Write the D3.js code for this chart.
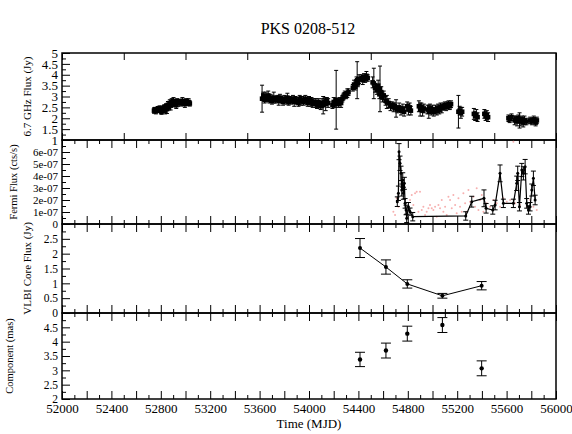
<!DOCTYPE html>
<html><head><meta charset="utf-8">
<script src="https://cdn.jsdelivr.net/npm/d3@7"></script>
<style>body{margin:0;background:#fff}svg{display:block}</style>
</head><body><svg id="c" width="572" height="434"></svg>
<script>
// ---------- DATA ----------
const title = "PKS 0208-512";
const xLabel = "Time (MJD)";
const panelLabels = ["6.7 GHz Flux (Jy)", "Fermi Flux (cts/s)", "VLBI Core Flux (Jy)", "Component (mas)"];
const xTickLabels = [52000, 52400, 52800, 53200, 53600, 54000, 54400, 54800, 55200, 55600, 56000];
const radioTickLabels = [1, 1.5, 2, 2.5, 3, 3.5, 4, 4.5, 5];
const fermiTickLabels = [0, 1e-7, 2e-7, 3e-7, 4e-7, 5e-7, 6e-7];
const vlbiTickLabels = [0, 0.5, 1, 1.5, 2, 2.5];
const compTickLabels = [2, 2.5, 3, 3.5, 4, 4.5];

// 6.7 GHz radio light curve
const radioMJD = [52745,52752,52760,52768,52775,52783,52790,52798,52805,52812,52820,52828,52835,52843,52850,52858,52865,52873,52880,52888,52895,52903,52910,52918,52925,52933,52940,52955,52965,52975,52985,52995,53005,53015,53025,53035,
53620,53630,53640,53650,53660,53670,53680,53690,53700,53715,53730,53745,53755,53765,53775,53790,53800,53815,53825,53835,53845,53855,53870,53880,53890,53900,53915,53925,53935,53945,53955,53970,53980,53990,54000,54010,54020,54030,54040,54055,54065,54075,54085,54095,54105,54115,54125,54135,54145,54155,
54190,54200,54210,54220,54230,54240,54250,54260,54270,54280,54290,54300,54310,54320,54355,54365,54375,54385,54390,54395,54405,54425,54435,54445,54455,54465,54475,
54515,54525,54535,54550,54560,54570,54575,54585,54595,54605,54620,54630,54645,54660,54675,54685,54695,54705,54715,54730,54745,54760,54770,54795,54805,54815,54825,
54890,54900,54910,54920,54930,54960,54970,54980,54990,55000,55010,55025,55035,55045,55055,55065,55075,55090,55100,55110,55120,55130,55140,55150,
55210,55220,55230,55240,55335,55345,55355,55365,55420,55430,55440,55450,
55615,55625,55640,55665,55675,55685,55695,55705,55715,55725,55735,55745,55760,55790,55805,55820,55835,55845];
const radioFlux = [2.35,2.40,2.32,2.38,2.42,2.36,2.45,2.40,2.30,2.44,2.38,2.50,2.35,2.55,2.42,2.62,2.50,2.70,2.58,2.75,2.65,2.80,2.68,2.72,2.60,2.78,2.70,2.75,2.68,2.80,2.72,2.65,2.78,2.70,2.75,2.68,
2.90,3.05,2.85,3.00,2.90,3.05,2.85,2.95,2.80,2.95,2.85,2.90,2.80,2.95,2.85,2.75,2.90,2.80,2.95,2.75,2.85,2.80,2.90,2.75,2.85,2.80,2.70,2.90,2.80,2.85,2.75,2.90,2.80,2.70,2.85,2.75,2.80,2.65,2.75,2.70,2.60,2.75,2.65,2.55,2.70,2.60,2.75,2.65,2.80,2.70,
2.60,2.75,2.65,2.85,2.75,2.65,2.80,2.70,2.90,3.00,3.10,3.05,3.15,3.20,3.40,3.55,3.45,3.70,3.75,3.60,3.80,3.85,3.75,3.90,3.80,3.95,3.85,
3.65,3.60,3.40,3.30,3.50,3.10,3.35,3.20,2.95,3.05,2.80,2.75,2.70,2.55,2.60,2.50,2.55,2.45,2.40,2.50,2.35,2.45,2.30,2.55,2.40,2.50,2.35,
2.55,2.40,2.50,2.35,2.45,2.40,2.30,2.45,2.35,2.40,2.30,2.40,2.35,2.45,2.40,2.50,2.45,2.55,2.60,2.50,2.60,2.65,2.55,2.65,
2.30,2.35,2.25,2.30,2.20,2.10,2.15,2.05,2.20,2.10,2.15,2.05,
2.00,1.95,2.05,1.90,1.95,1.85,2.00,1.90,1.85,1.95,1.80,1.90,1.85,1.90,1.85,1.95,1.80,1.90];
const radioErr = [0.12,0.10,0.12,0.10,0.12,0.10,0.12,0.10,0.12,0.12,0.10,0.12,0.15,0.12,0.20,0.15,0.12,0.15,0.20,0.15,0.12,0.15,0.15,0.12,0.15,0.12,0.15,0.12,0.12,0.15,0.12,0.15,0.12,0.12,0.15,0.12,
0.62,0.15,0.15,0.20,0.15,0.20,0.15,0.15,0.15,0.25,0.15,0.15,0.20,0.15,0.15,0.15,0.15,0.15,0.20,0.15,0.15,0.15,0.15,0.20,0.15,0.15,0.15,0.15,0.20,0.15,0.15,0.15,0.15,0.15,0.15,0.20,0.15,0.15,0.15,0.20,0.15,0.15,0.15,0.15,0.20,0.40,0.15,0.30,0.15,0.20,
0.15,0.20,0.15,1.35,0.15,0.15,0.15,0.20,0.15,0.15,0.15,0.15,0.20,0.15,0.15,0.20,0.15,0.20,0.85,0.15,0.20,0.15,0.20,0.15,0.15,0.20,0.15,
0.25,0.70,0.20,0.20,0.25,0.20,1.05,0.25,0.20,0.20,0.20,0.30,0.20,0.20,0.15,0.20,0.15,0.40,0.15,0.20,0.20,0.20,0.20,0.20,0.25,0.20,0.20,
0.25,0.30,0.20,0.25,0.20,0.20,0.30,0.20,0.20,0.20,0.20,0.20,0.20,0.20,0.20,0.20,0.20,0.15,0.15,0.15,0.15,0.15,0.15,0.15,
0.75,0.20,0.25,0.20,0.25,0.20,0.25,0.20,0.20,0.20,0.20,0.20,
0.15,0.15,0.15,0.20,0.15,0.20,0.15,0.35,0.20,0.15,0.20,0.20,0.15,0.15,0.15,0.15,0.15,0.15];

// Fermi binned light curve (black)
const fermiMJD = [54715,54724,54729,54737,54745,54751,54759,54764,54772,54778,54786,54791,54805,54818,54840,55269,55318,55417,55434,55488,55507,55547,55574,55655,55682,55690,55704,55723,55736,55750,55763,55777,55790,55804,55817,55831];
const fermiFlux = [1.86e-7,2.56e-7,6.03e-7,5.06e-7,4.22e-7,2.83e-7,3.67e-7,2.56e-7,3.39e-7,1.72e-7,1.17e-7,0.47e-7,1.44e-7,1.03e-7,0.61e-7,0.67e-7,1.86e-7,2.14e-7,1.31e-7,1.17e-7,1.58e-7,4.22e-7,1.72e-7,1.72e-7,3.39e-7,4.22e-7,1.44e-7,4.50e-7,4.22e-7,4.78e-7,1.72e-7,1.17e-7,1.44e-7,2.83e-7,3.81e-7,2.00e-7];
const fermiErr = [0.40e-7,0.60e-7,0.67e-7,0.60e-7,0.60e-7,0.50e-7,0.60e-7,0.50e-7,0.50e-7,0.40e-7,0.40e-7,0.35e-7,0.35e-7,0.30e-7,0.35e-7,0.35e-7,0.45e-7,0.70e-7,0.40e-7,0.35e-7,0.40e-7,0.70e-7,0.35e-7,0.35e-7,0.60e-7,0.60e-7,0.35e-7,0.55e-7,0.55e-7,0.60e-7,0.40e-7,0.35e-7,0.35e-7,0.50e-7,0.60e-7,0.40e-7];

// Fermi unbinned points (pink)
const fermiDotMJD = [54683,54697,54710,54724,54818,54832,54845,54859,54872,54886,54899,54913,54926,54940,54953,54967,54980,54994,55007,55021,55034,55048,55061,55075,55088,55102,55115,55129,55142,55156,55169,55183,55196,55210,55223,55237,55250,55264,55277,55291,55304,55331,55345,55358,55372,55385,55399,55412,55439,55466,55493,55520,55547,55574,55601,55628,55655,55669,55709,55763,55790,55817,55844];
const fermiDotFlux = [1.03e-7,0.75e-7,2.14e-7,1.44e-7,2.00e-7,2.42e-7,1.58e-7,2.56e-7,2.69e-7,1.03e-7,2.69e-7,1.17e-7,1.44e-7,0.75e-7,1.03e-7,1.31e-7,1.58e-7,1.31e-7,1.17e-7,1.44e-7,0.61e-7,1.58e-7,1.31e-7,2.00e-7,1.03e-7,1.44e-7,0.75e-7,2.28e-7,2.00e-7,1.31e-7,2.42e-7,1.58e-7,0.89e-7,2.14e-7,1.44e-7,1.03e-7,2.56e-7,1.72e-7,1.03e-7,2.83e-7,1.86e-7,2.28e-7,1.44e-7,2.97e-7,1.17e-7,2.00e-7,2.42e-7,1.03e-7,1.72e-7,1.44e-7,2.00e-7,1.72e-7,1.44e-7,2.14e-7,1.86e-7,2.00e-7,6.86e-7,1.72e-7,1.58e-7,1.44e-7,2.00e-7,1.44e-7,1.17e-7];

// VLBI core flux
const vlbiMJD = [54413, 54623, 54796, 55080, 55398];
const vlbiFlux = [2.19, 1.55, 0.98, 0.58, 0.92];
const vlbiErr = [0.32, 0.24, 0.14, 0.08, 0.14];

// Component distance
const compMJD = [54413, 54623, 54796, 55080, 55398];
const compDist = [3.38, 3.69, 4.28, 4.58, 3.07];
const compErr = [0.25, 0.26, 0.26, 0.26, 0.26];

// ---------- LAYOUT ----------
const FONT = "'Liberation Serif', 'Times New Roman', Tinos, serif";
const svg = d3.select("#c");
const X0 = 62, X1 = 556;
const bounds = [53, 140, 224, 313, 399];
const x = d3.scaleLinear().domain([52000, 56000]).range([X0, X1]);
const yR = d3.scaleLinear().domain([1, 5]).range([bounds[1], bounds[0]]);
const yF = d3.scaleLinear().domain([0, 7e-7]).range([bounds[2], bounds[1]]);
const yV = d3.scaleLinear().domain([0, 3]).range([bounds[3], bounds[2]]);
const yC = d3.scaleLinear().domain([2, 5]).range([bounds[4], bounds[3]]);

svg.append("text").attr("x", 308).attr("y", 34).attr("text-anchor", "middle")
  .attr("font-size", 16).text(title);

function styleAxis(g, fs) {
  g.select(".domain").remove();
  g.attr("font-family", null);
  g.selectAll(".tick line").attr("stroke", "#000").attr("stroke-width", 1);
  g.selectAll("text").attr("font-size", fs).attr("fill", "#000");
}

function yAxes(scale, majors, minors, fmt, fs) {
  const gMin = svg.append("g").attr("transform", `translate(${X0},0)`)
    .call(d3.axisLeft(scale).tickValues(minors).tickSize(-4).tickFormat(""));
  styleAxis(gMin, fs);
  const gMaj = svg.append("g").attr("transform", `translate(${X0},0)`)
    .call(d3.axisLeft(scale).tickValues(majors).tickSize(-8).tickPadding(4).tickFormat(fmt));
  styleAxis(gMaj, fs);
}

function xAxesPanel(top, bottom, majors, minors, majLen, labels) {
  if (minors) {
    styleAxis(svg.append("g").attr("transform", `translate(0,${top})`)
      .call(d3.axisTop(x).tickValues(minors).tickSize(-4).tickFormat("")), 13);
    styleAxis(svg.append("g").attr("transform", `translate(0,${bottom})`)
      .call(d3.axisBottom(x).tickValues(minors).tickSize(-4).tickFormat("")), 13);
  }
  styleAxis(svg.append("g").attr("transform", `translate(0,${top})`)
    .call(d3.axisTop(x).tickValues(majors).tickSize(-majLen).tickFormat("")), 13);
  styleAxis(svg.append("g").attr("transform", `translate(0,${bottom})`)
    .call(d3.axisBottom(x).tickValues(majors).tickSize(-majLen).tickFormat("")), 13);
  if (labels) {
    const gl = svg.append("g").attr("transform", `translate(0,${bottom})`)
      .call(d3.axisBottom(x).tickValues(labels).tickSize(0).tickPadding(5).tickFormat(d3.format("d")));
    styleAxis(gl, 13);
    gl.selectAll(".tick line").remove();
  }
}

// tick positions
const x500 = d3.range(52000, 56001, 500);
const x200 = d3.range(52000, 56001, 200);
const x100 = d3.range(52100, 56000, 200);

xAxesPanel(bounds[0], bounds[1], x500, null, 7, null);
xAxesPanel(bounds[1], bounds[2], x200, x100, 8, null);
xAxesPanel(bounds[2], bounds[3], x200, x100, 8, null);
xAxesPanel(bounds[3], bounds[4], x200, x100, 8, xTickLabels);

yAxes(yR, radioTickLabels, radioTickLabels.map(d => d + 0.25).filter(d => d < 5), d => d3.format("")(d), 13);
yAxes(yF, fermiTickLabels, fermiTickLabels.map(d => d + 0.5e-7), d => d === 0 ? "0" : Math.round(d * 1e7) + "e-07", 11);
yAxes(yV, vlbiTickLabels, vlbiTickLabels.map(d => d + 0.25), d => d3.format("")(d), 11.5);
yAxes(yC, compTickLabels, compTickLabels.map(d => d + 0.25), d => d3.format("")(d), 11.5);

// frames
for (let i = 0; i < 4; i++) {
  svg.append("rect").attr("x", X0).attr("y", bounds[i]).attr("width", X1 - X0)
    .attr("height", bounds[i + 1] - bounds[i]).attr("fill", "none")
    .attr("stroke", "#000").attr("stroke-width", 1.5);
}

// axis titles
const labelPos = [[31, 11], [17, 10.5], [31, 11], [13, 10.5]];
panelLabels.forEach((t, i) => {
  const cy = (bounds[i] + bounds[i + 1]) / 2;
  svg.append("text").attr("transform", `translate(${labelPos[i][0]},${cy}) rotate(-90)`)
    .attr("text-anchor", "middle").attr("font-size", labelPos[i][1]).text(t);
});
svg.append("text").attr("x", 309).attr("y", 428).attr("text-anchor", "middle")
  .attr("font-size", 13).text(xLabel);

// error bar helper
function errBars(g, xs, ys, es, yScale, cap, sw) {
  xs.forEach((m, i) => {
    const cx = x(m), y1 = yScale(ys[i] + es[i]), y2 = yScale(ys[i] - es[i]);
    g.append("line").attr("x1", cx).attr("x2", cx).attr("y1", y1).attr("y2", y2);
    g.append("line").attr("x1", cx - cap).attr("x2", cx + cap).attr("y1", y1).attr("y2", y1);
    g.append("line").attr("x1", cx - cap).attr("x2", cx + cap).attr("y1", y2).attr("y2", y2);
  });
  g.attr("stroke", "#000").attr("stroke-width", sw);
}

// Panel 1: radio
const g1 = svg.append("g");
errBars(g1.append("g"), radioMJD, radioFlux, radioErr, yR, 2, 1);
g1.selectAll("rect.p").data(radioMJD).join("rect")
  .attr("x", (d) => x(d) - 2.3).attr("y", (d, i) => yR(radioFlux[i]) - 2.3)
  .attr("width", 4.6).attr("height", 4.6).attr("fill", "#000");

// Panel 2: Fermi
const g2 = svg.append("g");
g2.selectAll("circle.pk").data(fermiDotMJD).join("circle")
  .attr("cx", d => x(d)).attr("cy", (d, i) => yF(fermiDotFlux[i])).attr("r", 1)
  .attr("fill", "#f7b0b0");
errBars(g2.append("g"), fermiMJD, fermiFlux, fermiErr, yF, 2.5, 1);
g2.append("path").datum(fermiMJD.map((d, i) => [d, fermiFlux[i]]))
  .attr("d", d3.line().x(d => x(d[0])).y(d => yF(d[1])))
  .attr("fill", "none").attr("stroke", "#000").attr("stroke-width", 1.2);
g2.selectAll("circle.bk").data(fermiMJD).join("circle")
  .attr("cx", d => x(d)).attr("cy", (d, i) => yF(fermiFlux[i])).attr("r", 1.5).attr("fill", "#000");

// Panel 3: VLBI core
const g3 = svg.append("g");
errBars(g3.append("g"), vlbiMJD, vlbiFlux, vlbiErr, yV, 5, 1);
g3.append("path").datum(vlbiMJD.map((d, i) => [d, vlbiFlux[i]]))
  .attr("d", d3.line().x(d => x(d[0])).y(d => yV(d[1])))
  .attr("fill", "none").attr("stroke", "#000").attr("stroke-width", 1);
g3.selectAll("circle").data(vlbiMJD).join("circle")
  .attr("cx", d => x(d)).attr("cy", (d, i) => yV(vlbiFlux[i])).attr("r", 2).attr("fill", "#000");

// Panel 4: component
const g4 = svg.append("g");
errBars(g4.append("g"), compMJD, compDist, compErr, yC, 5, 1);
g4.selectAll("circle").data(compMJD).join("circle")
  .attr("cx", d => x(d)).attr("cy", (d, i) => yC(compDist[i])).attr("r", 2.2).attr("fill", "#000");

// serif font on every text
svg.selectAll("text").style("font-family", FONT).attr("fill", "#000");
</script>
</body></html>
